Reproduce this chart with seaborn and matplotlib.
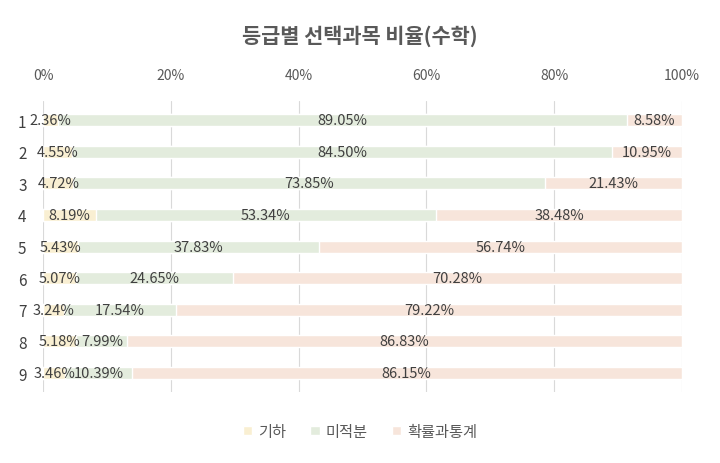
import numpy as np
import pandas as pd
import matplotlib
matplotlib.use('Agg')
import matplotlib.pyplot as plt
import matplotlib.ticker as mtick
import seaborn as sns

grades = ['1', '2', '3', '4', '5', '6', '7', '8', '9']
geometry = [2.36, 4.55, 4.72, 8.19, 5.43, 5.07, 3.24, 5.18, 3.46]
calculus = [89.05, 84.50, 73.85, 53.34, 37.83, 24.65, 17.54, 7.99, 10.39]
probstat = [8.58, 10.95, 21.43, 38.48, 56.74, 70.28, 79.22, 86.83, 86.15]
subjects = ['기하', '미적분', '확률과통계']
colors = ['#fff2cc', '#e2efda', '#fce4d6']

sns.set_theme(style='white')
plt.rcParams['font.family'] = ['Noto Sans CJK KR', 'DejaVu Sans']

df = pd.DataFrame({'grade': grades, '기하': geometry, '미적분': calculus, '확률과통계': probstat})

fig = plt.figure(figsize=(7.2, 4.64), dpi=100)
ax = fig.add_axes([0.06, 0.153, 0.887, 0.627])

left = np.zeros(len(grades))
for subj, col in zip(subjects, colors):
    vals = df[subj].values / 100
    sns.barplot(x=left + vals, y=df['grade'], color=col, width=0.38, ax=ax,
                orient='h', label=subj)
    for i, v in enumerate(vals):
        ax.text(left[i] + v / 2, i, f'{v*100:.2f}%', ha='center', va='center',
                fontsize=10.5, color='#404040', zorder=10)
    left += vals

# cumulative bars: the shorter ones must sit on top
for bars, z in zip(ax.containers, [5, 4, 3]):
    for b in bars:
        b.set_zorder(z)

ax.set_xlim(0, 1)
ax.set_ylim(8.6, -0.6)
ax.xaxis.tick_top()
ax.xaxis.set_major_formatter(mtick.PercentFormatter(1.0, decimals=0))
ax.set_xticks(np.linspace(0, 1, 6))
ax.tick_params(axis='x', length=0, labelsize=10, colors='#595959', pad=14)
ax.tick_params(axis='y', length=0, labelsize=11, colors='#404040', pad=12)
ax.set_xlabel('')
ax.set_ylabel('')
ax.grid(axis='x', color='#d9d9d9', linewidth=0.8, zorder=0)
ax.set_axisbelow(True)
for s in ax.spines.values():
    s.set_visible(False)

fig.suptitle('등급별 선택과목 비율(수학)', y=0.945, fontsize=15, color='#595959', fontweight='bold')

handles, labels = ax.get_legend_handles_labels()
if ax.get_legend() is not None:
    ax.get_legend().remove()
fig.legend(handles, labels, loc='lower center', bbox_to_anchor=(0.5, 0.02), ncol=3,
           frameon=False, fontsize=11, handlelength=0.6, handleheight=0.6,
           columnspacing=1.6, handletextpad=0.4, labelcolor='#595959')

fig.savefig('out.png', dpi=100)
